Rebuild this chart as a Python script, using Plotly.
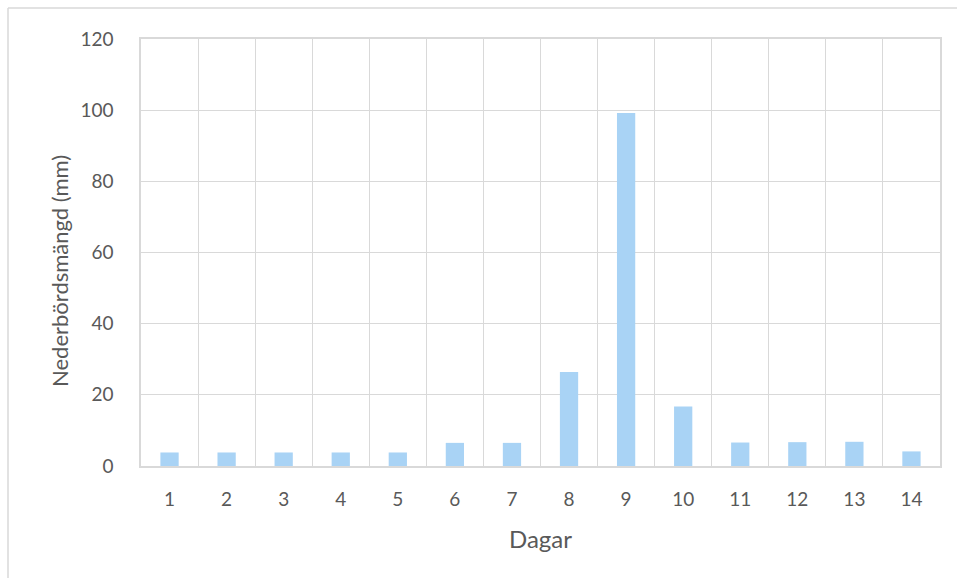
import plotly.graph_objects as go

# Daily precipitation over a 14-day period
dagar = [str(d) for d in range(1, 15)]
nederbord = [3.8, 3.8, 3.8, 3.8, 3.8, 6.5, 6.5, 26.4, 99.2, 16.7, 6.6, 6.7, 6.8, 4.1]
y_ticks = [0, 20, 40, 60, 80, 100, 120]

W, H = 957, 578
L, R, T, B = 141, 17, 39, 112
GRID = "#d9d9d9"
TXT = "#595959"
FONT = "Lato"

fig = go.Figure(
    go.Bar(
        x=dagar,
        y=nederbord,
        marker=dict(color="#a9d3f5", line=dict(width=0)),
        width=0.32,
    )
)

plot_w = W - L - R
plot_h = H - T - B


def px_x(p):
    return (p - L) / plot_w


def px_y(p):
    return (H - B - p) / plot_h


# Chart-area frame (top and left edges)
fig.add_shape(type="line", xref="paper", yref="paper",
              x0=px_x(8), x1=px_x(W + 5), y0=px_y(8), y1=px_y(8),
              line=dict(color=GRID, width=1.5))
fig.add_shape(type="line", xref="paper", yref="paper",
              x0=px_x(8), x1=px_x(8), y0=px_y(8), y1=px_y(H + 5),
              line=dict(color=GRID, width=1.5))

# Axis titles
fig.add_annotation(text="Dagar", xref="paper", yref="paper",
                   x=px_x(540), y=px_y(538), showarrow=False,
                   xanchor="center", yanchor="middle",
                   font=dict(family=FONT, color=TXT, size=24))
fig.add_annotation(text="Nederbördsmängd (mm)", xref="paper", yref="paper",
                   x=px_x(59), y=px_y(271), showarrow=False, textangle=-90,
                   xanchor="center", yanchor="middle",
                   font=dict(family=FONT, color=TXT, size=22))

fig.update_layout(
    width=W,
    height=H,
    margin=dict(l=L, r=R, t=T, b=B, pad=0),
    paper_bgcolor="white",
    plot_bgcolor="white",
    showlegend=False,
    font=dict(family=FONT, color=TXT, size=19),
    xaxis=dict(
        type="category",
        tickson="boundaries",
        showgrid=True,
        gridcolor=GRID,
        gridwidth=1.4,
        showline=True,
        linecolor=GRID,
        linewidth=1.5,
        mirror=True,
        ticks="",
        ticklabelstandoff=15,
        tickfont=dict(family=FONT, color=TXT, size=19),
        zeroline=False,
    ),
    yaxis=dict(
        range=[0, 120],
        tickvals=y_ticks,
        showgrid=True,
        gridcolor=GRID,
        gridwidth=1.4,
        showline=True,
        linecolor=GRID,
        linewidth=1.5,
        mirror=True,
        ticks="",
        ticklabelstandoff=22,
        tickfont=dict(family=FONT, color=TXT, size=19),
        zeroline=False,
    ),
)

fig.write_html("out.html")
